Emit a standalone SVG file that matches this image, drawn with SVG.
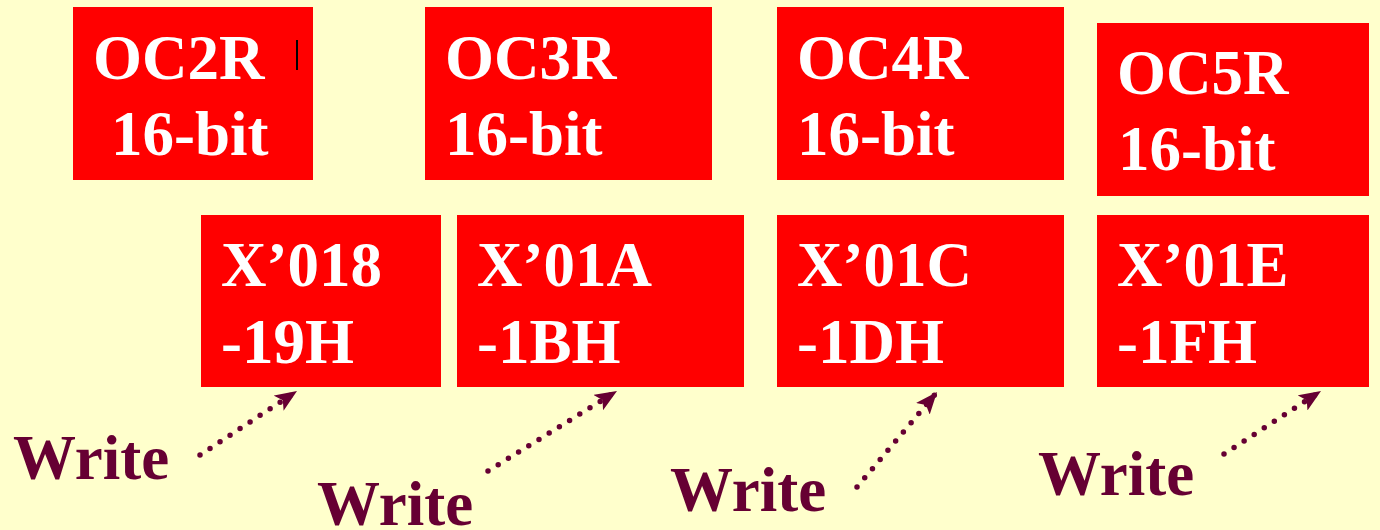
<svg xmlns="http://www.w3.org/2000/svg" width="1380" height="530" viewBox="0 0 1380 530">
<style>
.box{fill:#FF0000;}
.t{font-family:"Liberation Serif","Times New Roman",serif;font-weight:bold;font-size:63px;fill:#FFFFFF;}
.w{font-family:"Liberation Serif","Times New Roman",serif;font-weight:bold;font-size:63px;fill:#660033;}
.c{fill:none;stroke:#660033;stroke-width:5.5;stroke-linecap:round;stroke-dasharray:0 12;}
</style>
<defs>
<marker id="ah" viewBox="0 0 22 18" refX="22" refY="9" markerWidth="22" markerHeight="18" markerUnits="userSpaceOnUse" orient="auto">
<path d="M0,0 L22,9 L0,18 L5,9 z" fill="#660033"/>
</marker>
</defs>
<rect width="1380" height="530" fill="#FFFFCC"/>
<g id="oc2r"><rect class="box" x="73" y="7" width="240" height="173"/><text class="t" x="93" y="79">OC2R</text><text class="t" x="111" y="155">16-bit</text></g>
<rect x="296" y="40" width="2" height="30" fill="#000000"/>
<g id="oc3r"><rect class="box" x="425" y="7" width="287" height="173"/><text class="t" x="445" y="79">OC3R</text><text class="t" x="445" y="155">16-bit</text></g>
<g id="oc4r"><rect class="box" x="777" y="7" width="287" height="173"/><text class="t" x="797" y="79">OC4R</text><text class="t" x="797" y="155">16-bit</text></g>
<g id="oc5r"><rect class="box" x="1097" y="23" width="272" height="173"/><text class="t" x="1117" y="94">OC5R</text><text class="t" x="1118" y="170">16-bit</text></g>
<g id="a018"><rect class="box" x="201" y="215" width="240" height="172"/><text class="t" x="221" y="286">X’018</text><text class="t" x="221" y="363">-19H</text></g>
<g id="a01a"><rect class="box" x="457" y="215" width="287" height="172"/><text class="t" x="477" y="286">X’01A</text><text class="t" x="477" y="363">-1BH</text></g>
<g id="a01c"><rect class="box" x="777" y="215" width="287" height="172"/><text class="t" x="797" y="286">X’01C</text><text class="t" x="797" y="363">-1DH</text></g>
<g id="a01e"><rect class="box" x="1097" y="215" width="272" height="172"/><text class="t" x="1117" y="286">X’01E</text><text class="t" x="1117" y="363">-1FH</text></g>
<g id="w1"><text class="w" x="13" y="479">Write</text></g>
<g id="w2"><text class="w" x="317" y="525">Write</text></g>
<g id="w3"><text class="w" x="670" y="511">Write</text></g>
<g id="w4"><text class="w" x="1038" y="495">Write</text></g>
<g id="connectors">
<line class="c" x1="200" y1="455" x2="297" y2="391" marker-end="url(#ah)"/>
<line class="c" x1="488" y1="471" x2="617" y2="391" marker-end="url(#ah)"/>
<line class="c" x1="857" y1="487" x2="937" y2="392" marker-end="url(#ah)"/>
<line class="c" x1="1224" y1="454" x2="1321" y2="391" marker-end="url(#ah)"/>
</g>
</svg>
